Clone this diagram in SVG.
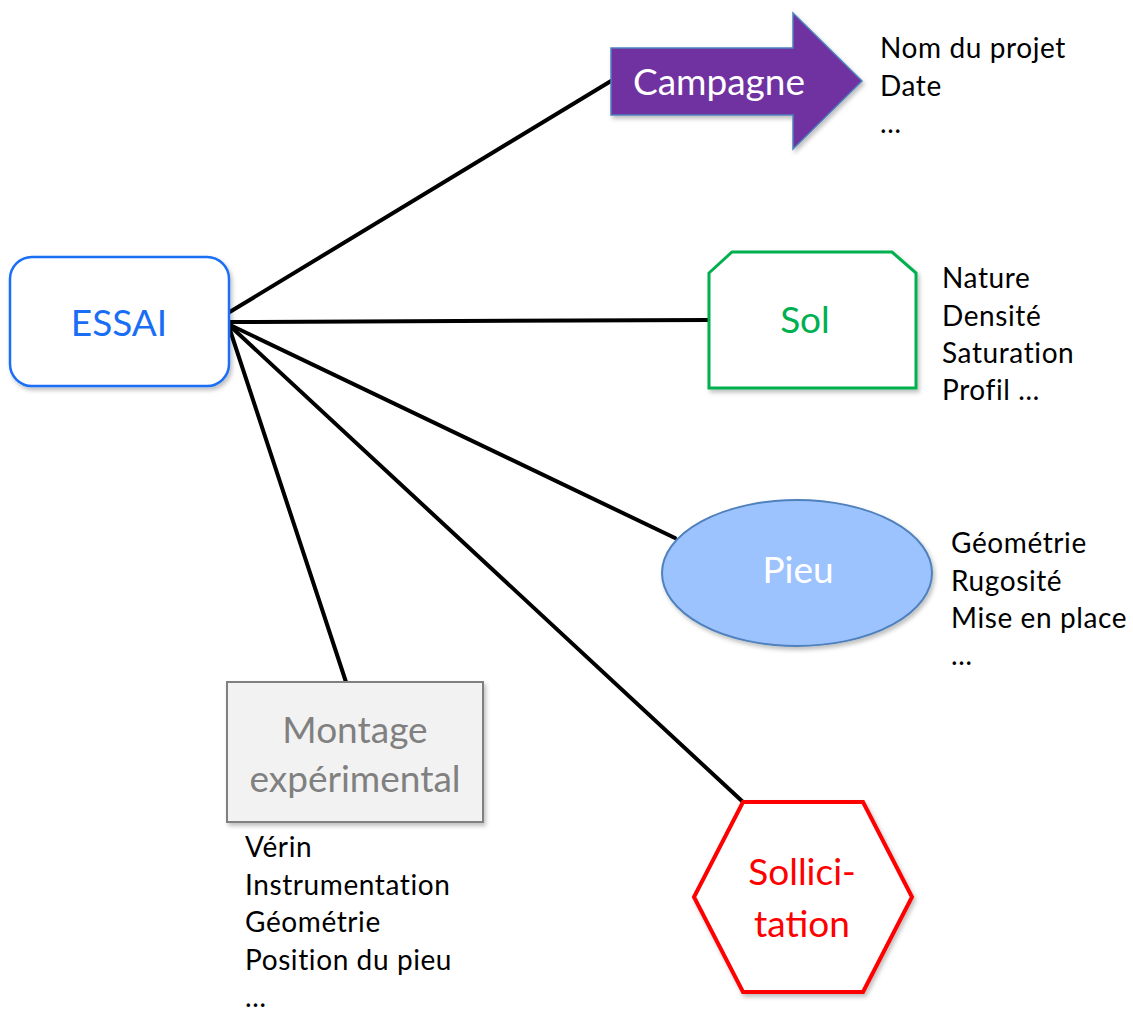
<svg xmlns="http://www.w3.org/2000/svg" width="1133" height="1011" viewBox="0 0 1133 1011">
<defs>
<filter id="sh" x="-10%" y="-10%" width="130%" height="130%">
<feDropShadow dx="2" dy="3" stdDeviation="2" flood-color="#000" flood-opacity="0.25"/>
</filter>
</defs>
<style>
.lbl{font-family:Lato,"Open Sans","Liberation Sans",sans-serif;font-size:37px;text-anchor:middle}
.lst{font-family:Lato,"Open Sans","Liberation Sans",sans-serif;font-size:28px;letter-spacing:0.6px;fill:#000}
.edge{stroke:#000;stroke-width:4;fill:none;stroke-linecap:round}
</style>
<rect width="1133" height="1011" fill="#fff"/>
<g id="connectors">
<line class="edge" x1="228" y1="313" x2="611" y2="81"/>
<line class="edge" x1="228" y1="322" x2="709" y2="320"/>
<line class="edge" x1="228" y1="324" x2="675" y2="538"/>
<line class="edge" x1="228" y1="324" x2="743" y2="802"/>
<line class="edge" x1="228" y1="324" x2="346" y2="682"/>
</g>
<g id="essai">
<rect x="10" y="257" width="219" height="129" rx="22" fill="#fff" stroke="#1A6EF5" stroke-width="2.5" filter="url(#sh)"/>
<text class="lbl" x="119" y="336" fill="#1A6EF5">ESSAI</text>
</g>
<g id="campagne">
<polygon points="611,48 793,48 793,13 862,81 793,149 793,115 611,115" fill="#7030A0" stroke="#4F81BD" stroke-width="1.5" filter="url(#sh)"/>
<text class="lbl" x="719" y="95" fill="#fff">Campagne</text>
<text class="lst" x="880" y="58">Nom du projet</text>
<text class="lst" x="880" y="96">Date</text>
<text class="lst" x="880" y="133">…</text>
</g>
<g id="sol">
<polygon points="709,273 732,252 892,252 916,273 916,388 709,388" fill="#fff" stroke="#00B050" stroke-width="3" filter="url(#sh)"/>
<text class="lbl" x="805" y="333" fill="#00B050">Sol</text>
<text class="lst" x="942" y="288">Nature</text>
<text class="lst" x="942" y="326">Densité</text>
<text class="lst" x="942" y="363">Saturation</text>
<text class="lst" x="942" y="400">Profil …</text>
</g>
<g id="pieu">
<ellipse cx="797" cy="573" rx="135" ry="73" fill="#9DC3FF" stroke="#4F81BD" stroke-width="2" filter="url(#sh)"/>
<text class="lbl" x="798" y="583" fill="#fff">Pieu</text>
<text class="lst" x="951" y="553">Géométrie</text>
<text class="lst" x="951" y="591">Rugosité</text>
<text class="lst" x="951" y="628">Mise en place</text>
<text class="lst" x="951" y="665">…</text>
</g>
<g id="montage">
<rect x="227" y="682" width="256" height="140" fill="#F2F2F2" stroke="#808080" stroke-width="2" filter="url(#sh)"/>
<text class="lbl" x="355" y="743" fill="#808080">Montage</text>
<text class="lbl" x="355" y="792" fill="#808080">expérimental</text>
<text class="lst" x="245" y="857">Vérin</text>
<text class="lst" x="245" y="895">Instrumentation</text>
<text class="lst" x="245" y="932">Géométrie</text>
<text class="lst" x="245" y="970">Position du pieu</text>
<text class="lst" x="245" y="1007">…</text>
</g>
<g id="sollicitation">
<polygon points="743,802 863,802 912,897 863,992 743,992 694,897" fill="#fff" stroke="#FF0000" stroke-width="4" filter="url(#sh)"/>
<text class="lbl" x="802" y="885" fill="#FF0000">Sollici-</text>
<text class="lbl" x="802" y="937" fill="#FF0000">tation</text>
</g>
</svg>
